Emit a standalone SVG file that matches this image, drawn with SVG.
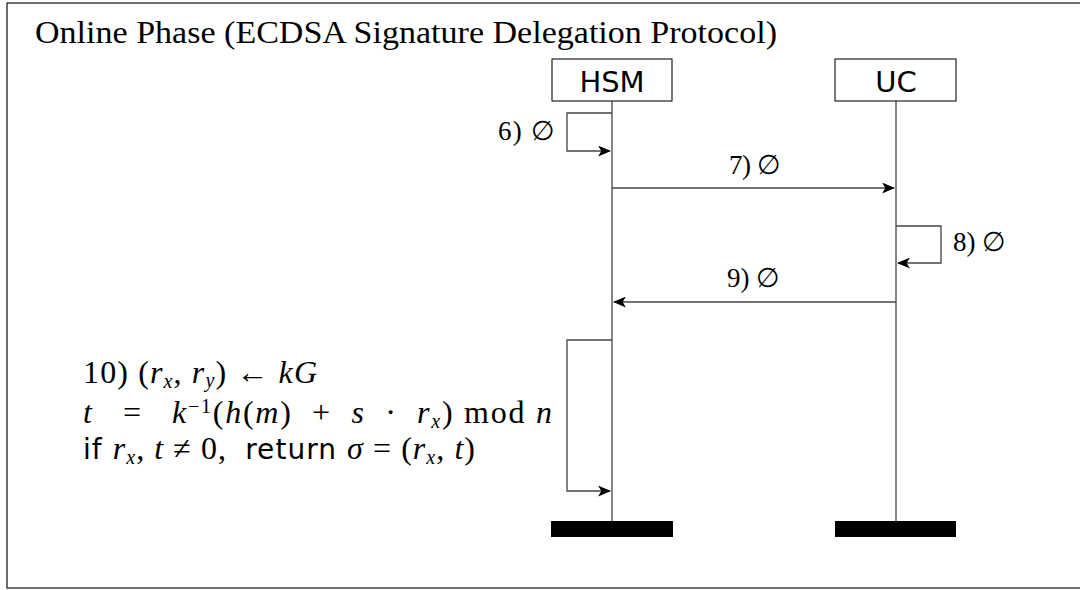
<svg xmlns="http://www.w3.org/2000/svg" width="1080" height="590" viewBox="0 0 1080 590">
<style>
.serif{font-family:"Liberation Serif","DejaVu Serif",serif;fill:#000}
.sans{font-family:"DejaVu Sans","Liberation Sans",sans-serif;fill:#000}
.it{font-style:italic}
.ln{stroke:#444;stroke-width:1.3;fill:none}
.box{fill:#fff;stroke:#222;stroke-width:1.2}
.bar{fill:#000}
</style>
<defs>
<marker id="ah" viewBox="0 0 12 10" refX="11" refY="5" markerWidth="13" markerHeight="11" markerUnits="userSpaceOnUse" orient="auto">
<path d="M0,0 L12,5 L0,10 L3,5 Z" fill="#000"/>
</marker>
</defs>
<rect x="7" y="3" width="1090" height="585" fill="#fff" stroke="#222" stroke-width="1.3"/>
<text class="serif" x="35" y="43" font-size="31" textLength="742" lengthAdjust="spacingAndGlyphs">Online Phase (ECDSA Signature Delegation Protocol)</text>

<g id="HSM">
<line class="ln" x1="612" y1="101" x2="612" y2="521"/>
<rect class="box" x="552" y="59" width="120" height="42"/>
<text class="sans" x="612" y="92" font-size="29" text-anchor="middle">HSM</text>
<rect class="bar" x="551" y="521" width="122" height="16"/>
</g>
<g id="UC">
<line class="ln" x1="896" y1="101" x2="896" y2="521"/>
<rect class="box" x="835" y="59" width="121" height="42"/>
<text class="sans" x="896" y="92" font-size="29" text-anchor="middle">UC</text>
<rect class="bar" x="835" y="521" width="121" height="16"/>
</g>

<g id="connectors">
<path class="ln" d="M612,113 H567 V151 H610" marker-end="url(#ah)"/>
<path class="ln" d="M612,188 H894" marker-end="url(#ah)"/>
<path class="ln" d="M896,226 H941 V263 H898" marker-end="url(#ah)"/>
<path class="ln" d="M896,302 H614" marker-end="url(#ah)"/>
<path class="ln" d="M612,340 H567 V491 H610" marker-end="url(#ah)"/>
</g>

<g id="labels">
<text class="serif" x="498" y="140" font-size="27" textLength="57">6) ∅</text>
<text class="serif" x="729" y="174" font-size="27" textLength="52">7) ∅</text>
<text class="serif" x="953" y="251" font-size="27" textLength="53">8) ∅</text>
<text class="serif" x="727" y="287" font-size="27" textLength="53">9) ∅</text>
</g>

<g id="step10" font-size="32">
<text class="serif" x="83" y="383" textLength="234">10) (<tspan class="it">r</tspan><tspan class="it" font-size="20" dy="5">x</tspan><tspan dy="-5">, </tspan><tspan class="it">r</tspan><tspan class="it" font-size="20" dy="4">y</tspan><tspan dy="-4">) ← </tspan><tspan class="it">kG</tspan></text>
<text class="serif" x="83" y="423" textLength="469" xml:space="preserve"><tspan class="it">t</tspan>   =   <tspan class="it">k</tspan><tspan font-size="20" dy="-10">−1</tspan><tspan dy="10">(</tspan><tspan class="it">h</tspan>(<tspan class="it">m</tspan>)  +  <tspan class="it">s</tspan>  ·  <tspan class="it">r</tspan><tspan class="it" font-size="20" dy="5">x</tspan><tspan dy="-5">) mod </tspan><tspan class="it">n</tspan></text>
<text class="serif" x="83" y="459" textLength="392" xml:space="preserve"><tspan class="sans" font-size="28">if </tspan><tspan class="it">r</tspan><tspan class="it" font-size="20" dy="5">x</tspan><tspan dy="-5">, </tspan><tspan class="it">t</tspan> ≠ 0,  <tspan class="sans" font-size="28">return </tspan><tspan class="it">σ</tspan> = (<tspan class="it">r</tspan><tspan class="it" font-size="20" dy="5">x</tspan><tspan dy="-5">, </tspan><tspan class="it">t</tspan>)</text>
</g>
</svg>
